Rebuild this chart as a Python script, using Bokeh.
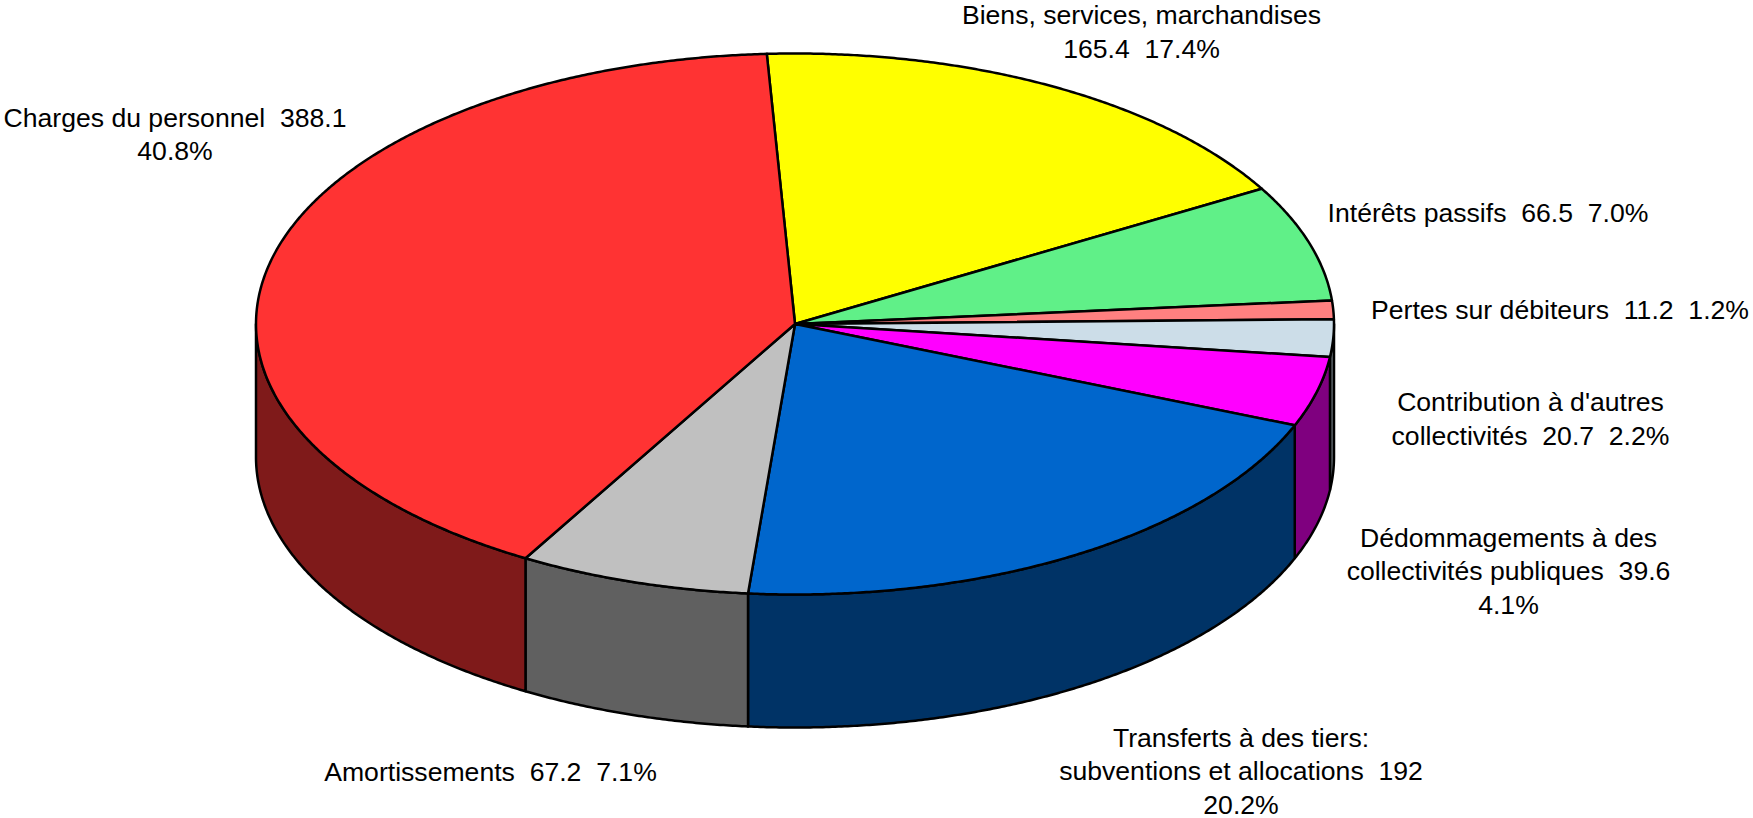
import numpy as np
from bokeh.plotting import figure
from bokeh.models import Range1d, ColumnDataSource
from bokeh.core.properties import value
from bokeh.embed import file_html
from bokeh.resources import INLINE

categories = ["Biens, services, marchandises", "Intérêts passifs", "Pertes sur débiteurs",
              "Contribution à d'autres collectivités", "Dédommagements à des collectivités publiques",
              "Transferts à des tiers: subventions et allocations", "Amortissements", "Charges du personnel"]
values = [165.4, 66.5, 11.2, 20.7, 39.6, 192.0, 67.2, 388.1]
colors = ["#FFFF00", "#60F088", "#FF8080", "#CCDDE8", "#FF00FF", "#0066CC", "#C0C0C0", "#FF3333"]
side_colors = ["#7F7F00", "#30784A", "#7F4040", "#666E74", "#7F007F", "#003366", "#606060", "#7F1A1A"]
label_lines = [
    ["Biens, services, marchandises", "165.4  17.4%"],
    ["Intérêts passifs  66.5  7.0%"],
    ["Pertes sur débiteurs  11.2  1.2%"],
    ["Contribution à d'autres", "collectivités  20.7  2.2%"],
    ["Dédommagements à des", "collectivités publiques  39.6", "4.1%"],
    ["Transferts à des tiers:", "subventions et allocations  192", "20.2%"],
    ["Amortissements  67.2  7.1%"],
    ["Charges du personnel  388.1", "40.8%"],
]

# layout (screen pixels of the 1753x818 window)
CX, CY, RX, RY, DEPTH = 794.5, 323.5, 539.0, 270.5, 133.0
START_DEG = -3.0
LABEL_ANCHORS = [(1141, 14.5), (1487.5, 212.5), (1559.5, 309.5), (1530, 401.5),
                 (1508, 537), (1240.5, 737), (490, 771), (174.5, 117)]
LINE_STEP = 33.5
FONT_SIZE = "26.6px"

p = figure(width=1753, height=818, output_backend="svg", toolbar_location=None,
           x_range=Range1d(0, 1753), y_range=Range1d(818, 0), min_border=0,
           outline_line_color=None, background_fill_color="white", border_fill_color="white")
p.axis.visible = False
p.grid.visible = False


def rim(a0, a1, dy=0.0):
    t = np.radians(np.linspace(a0, a1, max(2, int(abs(a1 - a0) * 3) + 2)))
    return CX + RX * np.sin(t), CY - RY * np.cos(t) + dy


total = sum(values)
# the original renderer snaps slice boundaries to whole degrees
edges = np.round(START_DEG + np.concatenate([[0], np.cumsum(values)]) / total * 360.0)

# side walls: only the front half (90..270 degrees clockwise from the top) shows
sx, sy, sc = [], [], []
for i in range(len(values)):
    a0, a1 = max(edges[i], 90.0), min(edges[i + 1], 270.0)
    if a1 <= a0:
        continue
    x0, y0 = rim(a0, a1)
    x1, y1 = rim(a1, a0, DEPTH)
    sx.append(np.concatenate([x0, x1]).tolist())
    sy.append(np.concatenate([y0, y1]).tolist())
    sc.append(side_colors[i])
p.patches("x", "y", source=ColumnDataSource(dict(x=sx, y=sy, c=sc)), fill_color="c",
          line_color="black", line_width=2.5, line_join="round")

# top faces
tx, ty = [], []
for i in range(len(values)):
    x0, y0 = rim(edges[i], edges[i + 1])
    tx.append(np.concatenate([[CX], x0]).tolist())
    ty.append(np.concatenate([[CY], y0]).tolist())
p.patches("x", "y", source=ColumnDataSource(dict(x=tx, y=ty, c=colors)), fill_color="c",
          line_color="black", line_width=2.5, line_join="round")

# labels (no-break spaces keep the double spacing of the original)
lx, ly, lt = [], [], []
for lines, (ax, ay) in zip(label_lines, LABEL_ANCHORS):
    for k, s in enumerate(lines):
        lx.append(ax)
        ly.append(ay + k * LINE_STEP)
        lt.append(s.replace("  ", "\u00a0\u00a0"))
p.text("x", "y", text="t", source=ColumnDataSource(dict(x=lx, y=ly, t=lt)),
       text_font=value("Liberation Sans"), text_font_size=value(FONT_SIZE),
       text_color="black", text_align="center", text_baseline="middle")

open("out.html", "w").write(file_html(p, INLINE))
